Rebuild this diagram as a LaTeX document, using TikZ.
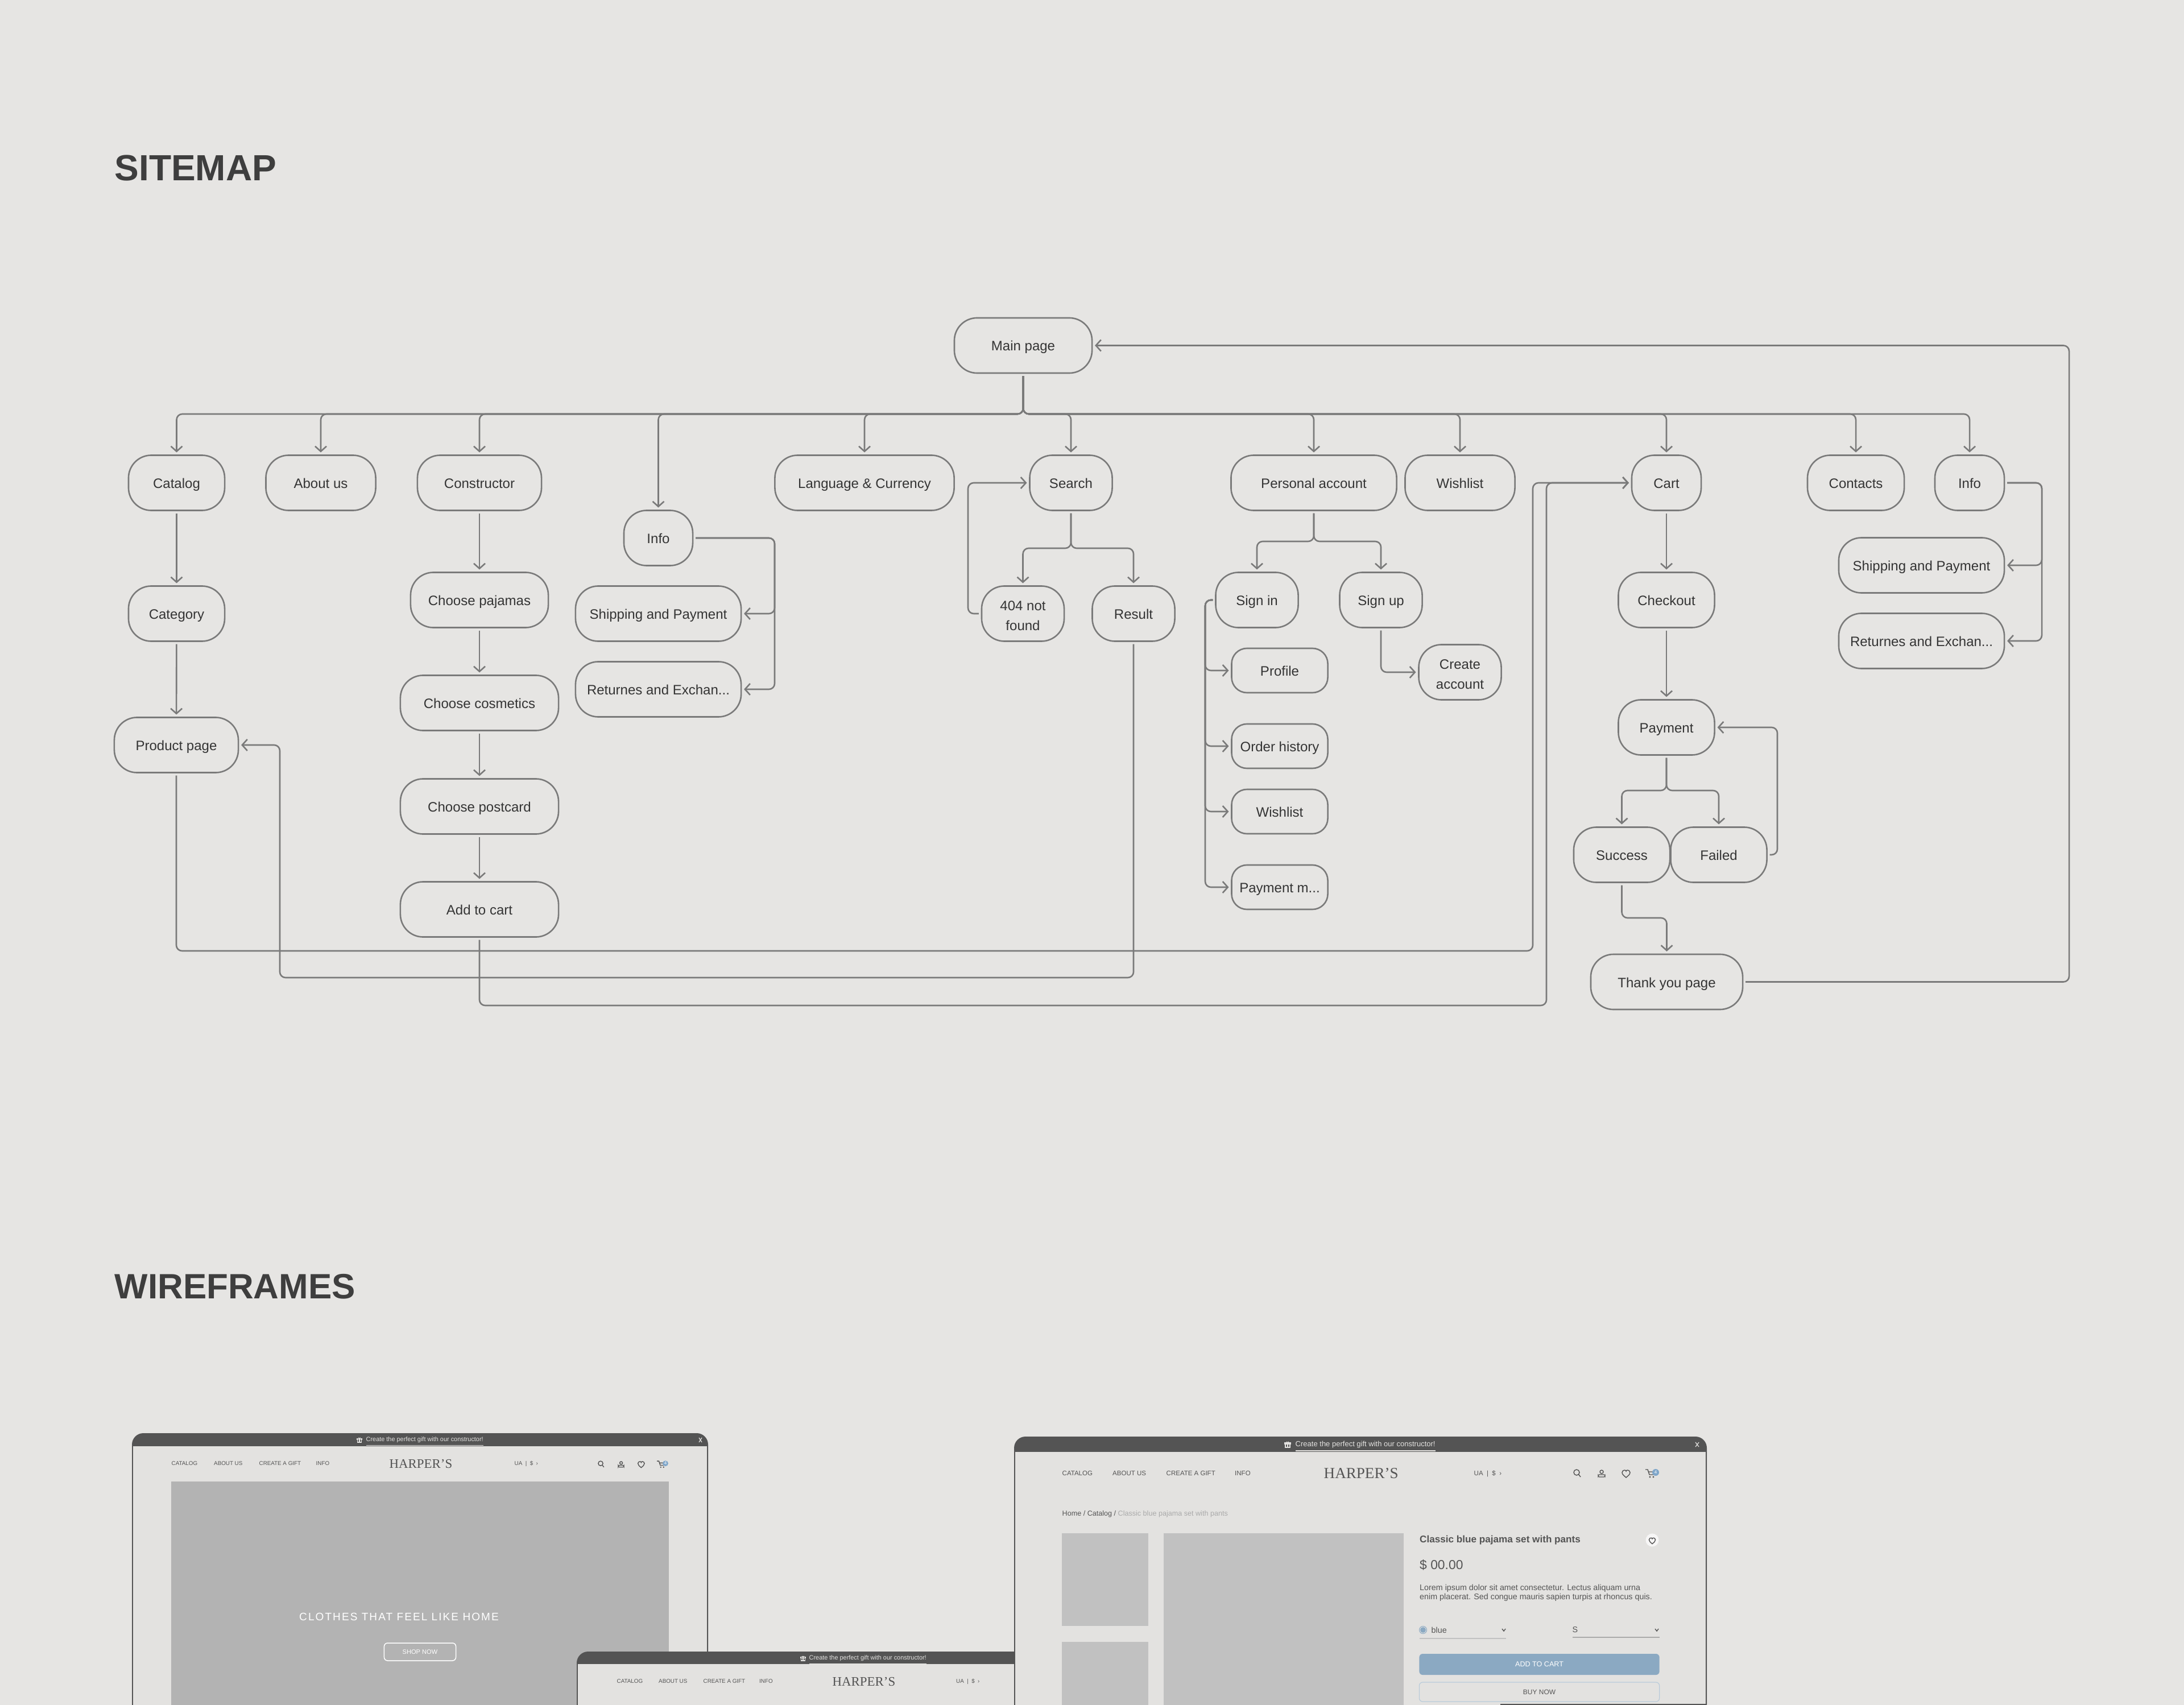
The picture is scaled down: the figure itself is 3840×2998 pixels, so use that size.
\documentclass[tikz,border=0pt]{standalone}
\usepackage{xcolor}
\usepackage{fontspec}
\usepackage{tikz}
\usetikzlibrary{arrows.meta, positioning}
\setmainfont{Liberation Sans}
\newfontfamily\logofont{Liberation Serif}
\newfontfamily\spacedfont[LetterSpace=11]{Liberation Sans}
\definecolor{bgcolor}{RGB}{230, 229, 227}
\definecolor{linecolor}{RGB}{122, 122, 122}
\definecolor{textcolor}{RGB}{52, 52, 52}
\definecolor{framecolor}{RGB}{84, 84, 84}
\definecolor{bodycolor}{RGB}{227, 226, 224}
\definecolor{herocolor}{RGB}{179, 179, 179}
\definecolor{thumbcolor}{RGB}{193, 193, 193}
\definecolor{bluecolor}{RGB}{139, 169, 194}
\definecolor{badgecolor}{RGB}{127, 166, 201}
\definecolor{greycolor}{RGB}{170, 170, 170}
\tikzstyle{box} = [rectangle, rounded corners=0.4cm, minimum height=0.97cm, inner sep=0pt, align=center, draw=linecolor, line width=0.026cm, outer sep=0.05cm, text=textcolor, text height=0.19cm, text depth=0pt, font=\fontsize{6.83}{10}\selectfont]
\tikzstyle{smallbox} = [box, rounded corners=0.27cm, minimum height=0.78cm, minimum width=1.69cm]
\tikzstyle{twolines} = [text height=0.59cm, text depth=0pt]
\tikzstyle{arrow} = [line width=0.026cm, draw=linecolor, rounded corners=0.1cm, -{Straight Barb[length=0.09cm, width=0.2cm]}]
\tikzstyle{heading} = [anchor=west, inner sep=0pt, text=textcolor!95, font=\fontsize{17.9}{20}\selectfont\bfseries]
\tikzstyle{wframe} = [fill=framecolor, rounded corners=0.2cm]
\tikzstyle{navone} = [anchor=west, inner sep=0pt, text=framecolor, text height=0.08cm, text depth=0.03cm, font=\fontsize{2.79}{4}\selectfont]
\tikzstyle{navtwo} = [anchor=west, inner sep=0pt, text=framecolor, text height=0.09cm, text depth=0.03cm, font=\fontsize{3.27}{4}\selectfont]
\tikzstyle{bannerone} = [anchor=west, inner sep=0pt, text=bodycolor, text height=0.08cm, text depth=0.03cm, font=\fontsize{3.1}{4}\selectfont]
\tikzstyle{bannertwo} = [anchor=west, inner sep=0pt, text=bodycolor, text height=0.1cm, text depth=0.03cm, font=\fontsize{3.7}{5}\selectfont]
\tikzstyle{logoone} = [anchor=west, inner sep=0pt, text=framecolor, font=\fontsize{6.5}{8}\logofont]
\tikzstyle{logotwo} = [anchor=west, inner sep=0pt, text=framecolor, font=\fontsize{7.7}{9}\logofont]
\tikzstyle{info} = [anchor=west, inner sep=0pt, text=framecolor, font=\fontsize{4.07}{4.6}\selectfont]
\tikzstyle{iconline} = [draw=framecolor, line width=0.014cm]
\tikzstyle{lightline} = [draw=bodycolor, line width=0.012cm]

% heart outline
\newcommand{\heartpath}{(0,7) .. controls (-4,3.5) and (-7,1.5) .. (-7,-2) .. controls (-7,-5) and (-4,-6) .. (-2.5,-6) .. controls (-1,-6) and (0,-5) .. (0,-4) .. controls (0,-5) and (1,-6) .. (2.5,-6) .. controls (4,-6) and (7,-5) .. (7,-2) .. controls (7,1.5) and (4,3.5) .. (0,7) -- cycle}
% search, user, heart and cart of a header
\newcommand{\shopicons}[4]{
\begin{scope}[shift={(#1,#2)}, scale=#3, iconline]
\draw (0,-1) circle (5);
\draw (3.6,2.6) -- (7,7);
\draw (44,-2) circle (3);
\draw[rounded corners=0.02cm] (38,7) rectangle (50,3);
\draw[shift={(87,1)}] \heartpath;
\draw (121,-6) -- (125,-6) -- (128,3) -- (136,3) (126,-2) -- (136,-2);
\fill[framecolor] (129,7) circle (1.6) (135,7) circle (1.6);
\fill[badgecolor] (139,-1) circle (6);
\node (#4) [inner sep=0pt, text=white, font=\fontsize{2.3}{3}\selectfont] at (139,-1) {4};
\end{scope}}
% small gift of a banner
\newcommand{\gifticon}[3]{
\begin{scope}[shift={(#1,#2)}, scale=#3, lightline]
\draw (-4,-1) rectangle (4,5);
\draw (-5,-3) rectangle (5,-1);
\draw (0,-3) -- (0,5);
\draw (-2,-5) -- (0,-3) -- (2,-5);
\end{scope}}

\begin{document}
\begin{tikzpicture}[x=0.01cm, y=-0.01cm]

\useasboundingbox (0,0) rectangle (3840,2998);
\fill[bgcolor] (0,0) rectangle (3840,2998);

\node (sitemap) [heading, font=\fontsize{18.2}{20}\selectfont\bfseries] at (201,295) {SITEMAP};
\node (wireframes) [heading, font=\fontsize{17.6}{20}\selectfont\bfseries] at (201,2262) {WIREFRAMES};

% Line 1 - main page
\node (main) [box, minimum width=2.42cm] at (1799,607.5) {Main page};
\coordinate (bus) at (1799,728);

% Line 2 - top level
\node (catalog) [box, minimum width=1.69cm] at (310.5,849) {Catalog};
\node (aboutus) [box, minimum width=1.93cm] at (564,849) {About us};
\node (constructor) [box, minimum width=2.18cm] at (843,849) {Constructor};
\node (language) [box, minimum width=3.15cm] at (1520,849) {Language \& Currency};
\node (search) [box, minimum width=1.45cm] at (1883,849) {Search};
\node (personal) [box, minimum width=2.91cm] at (2310,849) {Personal account};
\node (wishlist) [box, minimum width=1.93cm] at (2567,849) {Wishlist};
\node (cart) [box, minimum width=1.22cm] at (2930,849) {Cart};
\node (contacts) [box, minimum width=1.7cm] at (3263,849) {Contacts};
\node (infotop) [box, minimum width=1.22cm] at (3463,849) {Info};

% Catalog column
\node (category) [box, minimum width=1.69cm] at (310.5,1079) {Category};
\node (product) [box, minimum width=2.18cm] at (310,1310) {Product page};

% Constructor column
\node (pajamas) [box, minimum width=2.42cm] at (843,1055) {Choose pajamas};
\node (cosmetics) [box, minimum width=2.78cm] at (843,1236) {Choose cosmetics};
\node (postcard) [box, minimum width=2.78cm] at (843,1418) {Choose postcard};
\node (addcart) [box, minimum width=2.78cm] at (843,1599) {Add to cart};

% Info column
\node (info) [box, minimum width=1.21cm] at (1157.5,946) {Info};
\node (shipping) [box, minimum width=2.91cm] at (1157.5,1079) {Shipping and Payment};
\node (returnes) [box, minimum width=2.91cm] at (1157.5,1212) {Returnes and Exchan...};

% Search column
\node (notfound) [box, twolines, minimum width=1.45cm] at (1798.5,1079) {404 not\\found};
\node (result) [box, minimum width=1.45cm] at (1993,1079) {Result};

% Personal account column
\node (signin) [box, minimum width=1.45cm] at (2210,1055) {Sign in};
\node (signup) [box, minimum width=1.45cm] at (2428,1055) {Sign up};
\node (create) [box, twolines, minimum width=1.45cm] at (2567,1182) {Create\\account};
\node (profile) [smallbox] at (2250,1179) {Profile};
\node (history) [smallbox] at (2250,1312) {Order history};
\node (wishtwo) [smallbox] at (2250,1427) {Wishlist};
\node (paymethod) [smallbox] at (2250,1560) {Payment m...};

% Cart column
\node (checkout) [box, minimum width=1.69cm] at (2930,1055) {Checkout};
\node (payment) [box, minimum width=1.69cm] at (2930,1279) {Payment};
\node (success) [box, minimum width=1.69cm] at (2851.5,1503) {Success};
\node (failed) [box, minimum width=1.69cm] at (3022,1503) {Failed};
\node (thanks) [box, minimum width=2.67cm] at (2930.5,1726.5) {Thank you page};

% Right info column
\node (shippingtwo) [box, minimum width=2.91cm] at (3378.5,994) {Shipping and Payment};
\node (returnestwo) [box, minimum width=2.91cm] at (3378.5,1127) {Returnes and Exchan...};

% Rails of the connectors
\coordinate (inforail) at (1362,1000);
\coordinate (loopbranch) at (1883,964);
\coordinate (looprail) at (1702,964);
\coordinate (accbranch) at (2310,952);
\coordinate (signrail) at (2119,1300);
\coordinate (paybranch) at (2930,1390);
\coordinate (payrail) at (3125,1400);
\coordinate (thankbranch) at (2851.5,1614);
\coordinate (mainrail) at (3638,1200);
\coordinate (inforailtwo) at (3590,1000);
\coordinate (resultrail) at (1993,1719);
\coordinate (productrail) at (492,1719);
\coordinate (cartrail) at (2695,1672);
\coordinate (addrail) at (2719,1768);

% Arrows from the main page
\draw [arrow] (main.south) -- (bus) -| (catalog.north);
\draw [arrow] (main.south) -- (bus) -| (aboutus.north);
\draw [arrow] (main.south) -- (bus) -| (constructor.north);
\draw [arrow] (main.south) -- (bus) -| (info.north);
\draw [arrow] (main.south) -- (bus) -| (language.north);
\draw [arrow] (main.south) -- (bus) -| (search.north);
\draw [arrow] (main.south) -- (bus) -| (personal.north);
\draw [arrow] (main.south) -- (bus) -| (wishlist.north);
\draw [arrow] (main.south) -- (bus) -| (cart.north);
\draw [arrow] (main.south) -- (bus) -| (contacts.north);
\draw [arrow] (main.south) -- (bus) -| (infotop.north);

% Arrows of the columns
\draw [arrow] (catalog) -- (category);
\draw [arrow] (category) -- (product);
\draw [arrow] (constructor) -- (pajamas);
\draw [arrow] (pajamas) -- (cosmetics);
\draw [arrow] (cosmetics) -- (postcard);
\draw [arrow] (postcard) -- (addcart);
\draw [arrow] (info.east) -- (info.east -| inforail) -- (inforail |- shipping.east) -- (shipping.east);
\draw [arrow] (info.east) -- (info.east -| inforail) -- (inforail |- returnes.east) -- (returnes.east);
\draw [arrow] (search.south) -- (loopbranch) -| (notfound.north);
\draw [arrow] (search.south) -- (loopbranch) -| (result.north);
\draw [arrow] (notfound.west) -- (notfound.west -| looprail) -- (looprail |- search.west) -- (search.west);
\draw [arrow] (personal.south) -- (accbranch) -| (signin.north);
\draw [arrow] (personal.south) -- (accbranch) -| (signup.north);
\draw [arrow] (signup.south) -- (signup.south |- create.west) -- (create.west);
\draw [arrow] (signin.west) -- (signin.west -| signrail) -- (signrail |- profile.west) -- (profile.west);
\draw [arrow] (signin.west) -- (signin.west -| signrail) -- (signrail |- history.west) -- (history.west);
\draw [arrow] (signin.west) -- (signin.west -| signrail) -- (signrail |- wishtwo.west) -- (wishtwo.west);
\draw [arrow] (signin.west) -- (signin.west -| signrail) -- (signrail |- paymethod.west) -- (paymethod.west);
\draw [arrow] (cart) -- (checkout);
\draw [arrow] (checkout) -- (payment);
\draw [arrow] (payment.south) -- (paybranch) -| (success.north);
\draw [arrow] (payment.south) -- (paybranch) -| (failed.north);
\draw [arrow] (failed.east) -- (failed.east -| payrail) -- (payrail |- payment.east) -- (payment.east);
\draw [arrow] (success.south) -- (thankbranch) -| (thanks.north);
\draw [arrow] (thanks.east) -- (thanks.east -| mainrail) -- (mainrail |- main.east) -- (main.east);
\draw [arrow] (infotop.east) -- (infotop.east -| inforailtwo) -- (inforailtwo |- shippingtwo.east) -- (shippingtwo.east);
\draw [arrow] (infotop.east) -- (infotop.east -| inforailtwo) -- (inforailtwo |- returnestwo.east) -- (returnestwo.east);

% Long arrows
\draw [arrow] (result.south) -- (resultrail) -- (productrail) -- (productrail |- product.east) -- (product.east);
\draw [arrow] (product.south) -- (product.south |- cartrail) -- (cartrail) -- (cartrail |- cart.west) -- (cart.west);
\draw [arrow] (addcart.south) -- (addcart.south |- addrail) -- (addrail) -- (addrail |- cart.west) -- (cart.west);

% Wireframe 1 - home
\fill[wframe] (232,2998) -- (232,2520) -- (1245,2520) -- (1245,2998);
\fill[bodycolor] (234,2543) rectangle (1243,2998);
\fill[herocolor] (301,2605) rectangle (1175.5,2998);
\gifticon{632}{2532}{0.8}
\node (onebanner) [bannerone] at (643,2532) {\underline{Create the perfect gift with our constructor!}};
\draw[lightline] (1229,2528) -- (1234,2536) (1234,2528) -- (1229,2536);
\node (onecatalog) [navone] at (301,2574) {CATALOG};
\node (oneabout) [navone] at (375.5,2574) {ABOUT US};
\node (onegift) [navone] at (455,2574) {CREATE A GIFT};
\node (oneinfo) [navone] at (555,2574) {INFO};
\node (onelogo) [logoone] at (684,2574) {HARPER’S};
\node (onelang) [navone] at (904,2574) {UA \ | \ \$ \ ›};
\shopicons{1056}{2574}{0.82}{onebadge}
\node (onehero) [anchor=west, inner sep=0pt, text=white, font=\fontsize{5.4}{7}\spacedfont] at (525.5,2843) {CLOTHES THAT FEEL LIKE HOME};
\node (oneshop) [draw=white, line width=0.015cm, rounded corners=0.06cm, minimum width=1.26cm, minimum height=0.31cm, inner sep=0pt, text=white, font=\fontsize{3.15}{4}\selectfont] at (738.5,2904.5) {SHOP NOW};

% Wireframe 2 - under the third one
\fill[wframe] (1014,2998) -- (1014,2904) -- (1900,2904) -- (1900,2998);
\fill[bodycolor] (1016,2926) rectangle (1900,2998);
\gifticon{1412}{2916}{0.8}
\node (twobanner) [bannerone] at (1422,2916) {\underline{Create the perfect gift with our constructor!}};
\node (twocatalog) [navone] at (1084,2957) {CATALOG};
\node (twoabout) [navone] at (1157.5,2957) {ABOUT US};
\node (twogift) [navone] at (1236,2957) {CREATE A GIFT};
\node (twoinfo) [navone] at (1334.5,2957) {INFO};
\node (twologo) [logoone] at (1463,2957) {HARPER’S};
\node (twolang) [navone] at (1680.5,2957) {UA \ | \ \$ \ ›};

% Wireframe 3 - product
\fill[wframe] (1783,2998) -- (1783,2526) -- (3001,2526) -- (3001,2998);
\fill[bodycolor] (1785,2553) rectangle (2999,2998);
\gifticon{2264}{2540}{1}
\node (thrbanner) [bannertwo] at (2277,2540) {\underline{Create the perfect gift with our constructor!}};
\draw[lightline] (2981,2536) -- (2987,2544) (2987,2536) -- (2981,2544);
\node (thrcatalog) [navtwo] at (1867,2591) {CATALOG};
\node (thrabout) [navtwo] at (1955.5,2591) {ABOUT US};
\node (thrgift) [navtwo] at (2050,2591) {CREATE A GIFT};
\node (thrinfo) [navtwo] at (2170.5,2591) {INFO};
\node (thrlogo) [logotwo] at (2327,2591) {HARPER’S};
\node (thrlang) [navtwo] at (2591,2591) {UA \ | \ \$ \ ›};
\shopicons{2772}{2590}{1}{thrbadge}
\node (crumbs) [anchor=west, inner sep=0pt, text=framecolor, font=\fontsize{3.58}{4.6}\selectfont] at (1867,2662) {Home / Catalog / \textcolor{greycolor}{Classic blue pajama set with pants}};
\fill[thumbcolor] (1867,2696) rectangle (2018.5,2859);
\fill[thumbcolor] (1867,2887) rectangle (2018.5,2998);
\fill[thumbcolor] (2046,2696) rectangle (2468,2998);
\node (title) [anchor=west, inner sep=0pt, text=framecolor, font=\fontsize{4.87}{6}\selectfont\bfseries] at (2495.5,2708) {Classic blue pajama set with pants};
\fill[white!70!bodycolor] (2905,2708) circle (11.5);
\draw[iconline, shift={(2905,2709)}, scale=0.8] \heartpath;
\node (price) [anchor=west, inner sep=0pt, text=framecolor, font=\fontsize{6.5}{8}\selectfont] at (2495.5,2752) {\$ 00.00};
\node (lorem) [info] at (2495.5,2801) {\begin{tabular}{@{}l@{}}Lorem ipsum dolor sit amet consectetur. Lectus aliquam urna\\enim placerat. Sed congue mauris sapien turpis at rhoncus quis.\end{tabular}};
\fill[bluecolor] (2502,2866) circle (5);
\draw[bluecolor, line width=0.01cm] (2502,2866) circle (6.5);
\node (colour) [info] at (2516,2866) {blue};
\draw[iconline] (2641,2864) -- (2644,2868) -- (2647,2864);
\draw[thumbcolor, line width=0.02cm] (2495.5,2881) -- (2648,2881);
\node (size) [info] at (2764,2866) {S};
\draw[iconline] (2910,2864) -- (2913,2868) -- (2916,2864);
\draw[greycolor, line width=0.02cm] (2765,2879) -- (2917.5,2879);
\node (addtocart) [fill=bluecolor, rounded corners=0.06cm, minimum width=4.22cm, minimum height=0.37cm, inner sep=0pt, text=white, font=\fontsize{3.58}{4.6}\selectfont] at (2706.5,2926.5) {ADD TO CART};
\node (buynow) [draw=bluecolor!60, line width=0.012cm, rounded corners=0.06cm, minimum width=4.22cm, minimum height=0.34cm, inner sep=0pt, text=framecolor, font=\fontsize{3.4}{4.6}\selectfont] at (2706.5,2975) {BUY NOW};

% Wireframe 4 - only its top edge
\fill[framecolor] (2638,2996) rectangle (3001,2998);

\end{tikzpicture}
\end{document}
